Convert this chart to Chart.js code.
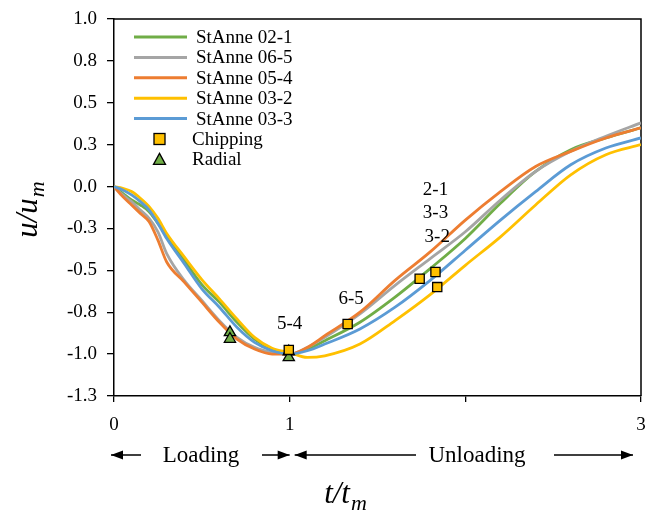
<!DOCTYPE html>
<html>
<head>
<meta charset="utf-8">
<script src="https://cdn.jsdelivr.net/npm/chart.js@4.4.0/dist/chart.umd.min.js"></script>
<style>
  html, body { margin: 0; padding: 0; background: #fff; overflow: hidden; }
  canvas { display: block; }
</style>
</head>
<body>
<canvas id="chart" width="645" height="512"></canvas>
<script>
// t/tm sample points shared by all five curves
const tVals = [0, 0.05, 0.1, 0.15, 0.2, 0.25, 0.3, 0.4, 0.5, 0.6, 0.7, 0.8, 0.9, 1.0,
               1.1, 1.2, 1.4, 1.6, 1.8, 2.0, 2.2, 2.4, 2.6, 2.8, 3.0];

// u/um
const stAnne021 = [0, -0.04, -0.08, -0.11, -0.15, -0.22, -0.29, -0.44, -0.585, -0.69, -0.81, -0.91, -0.97, -1.0,
                   -0.97, -0.92, -0.81, -0.66, -0.49, -0.31, -0.10, 0.09, 0.22, 0.29, 0.35];
const stAnne065 = [0, -0.05, -0.09, -0.14, -0.19, -0.27, -0.40, -0.56, -0.68, -0.80, -0.90, -0.96, -0.99, -1.0,
                   -0.96, -0.90, -0.76, -0.59, -0.43, -0.27, -0.08, 0.09, 0.21, 0.30, 0.38];
const stAnne054 = [0, -0.06, -0.11, -0.16, -0.21, -0.32, -0.45, -0.57, -0.69, -0.81, -0.91, -0.97, -1.0, -1.0,
                   -0.96, -0.89, -0.75, -0.56, -0.39, -0.20, -0.03, 0.12, 0.21, 0.29, 0.35];
const stAnne032 = [0, -0.01, -0.03, -0.07, -0.12, -0.19, -0.28, -0.42, -0.555, -0.67, -0.79, -0.90, -0.965, -0.99,
                   -1.02, -1.01, -0.94, -0.80, -0.645, -0.47, -0.30, -0.11, 0.07, 0.19, 0.25];
const stAnne033 = [0, -0.02, -0.05, -0.09, -0.14, -0.22, -0.31, -0.46, -0.61, -0.72, -0.84, -0.93, -0.98, -1.0,
                   -0.98, -0.94, -0.85, -0.72, -0.56, -0.38, -0.20, -0.03, 0.13, 0.23, 0.29];

const seriesNames = ['StAnne 02-1', 'StAnne 06-5', 'StAnne 05-4', 'StAnne 03-2', 'StAnne 03-3'];
const seriesData = [stAnne021, stAnne065, stAnne054, stAnne032, stAnne033];
const seriesColors = ['#70AD47', '#A5A5A5', '#ED7D31', '#FFC000', '#5B9BD5'];

// failure markers
const chipT = [0.995, 1.33, 1.74, 1.83, 1.84];
const chipU = [-0.975, -0.82, -0.55, -0.51, -0.60];
const radialT = [0.66, 0.66, 0.995, 0.995];
const radialU = [-0.87, -0.91, -0.985, -1.02];

// specimen labels next to the chipping markers
const chipLabels = ['5-4', '6-5', '2-1', '3-3', '3-2'];
const chipLabelT = [1.0, 1.35, 1.83, 1.83, 1.84];
const chipLabelU = [-0.82, -0.67, -0.02, -0.16, -0.30];

const FONT = '"Liberation Serif", "DejaVu Serif", serif';

const datasets = [];
datasets.push({
  label: 'Chipping',
  data: chipT.map((t, i) => ({x: t, y: chipU[i]})),
  showLine: false, pointStyle: 'rect', pointRadius: 6.5,
  backgroundColor: '#FFC000', borderColor: '#000', borderWidth: 1.3, order: 0
});
datasets.push({
  label: 'Radial',
  data: radialT.map((t, i) => ({x: t, y: radialU[i]})),
  showLine: false, pointStyle: 'triangle', pointRadius: 6.5,
  backgroundColor: '#70AD47', borderColor: '#000', borderWidth: 1.3, order: 1
});
seriesNames.forEach((name, i) => {
  datasets.push({
    label: name,
    data: tVals.map((t, j) => ({x: t, y: seriesData[i][j]})),
    borderColor: seriesColors[i], borderWidth: 2.8,
    pointRadius: 0, cubicInterpolationMode: 'monotone', fill: false,
    order: 10 - i
  });
});

const framePlugin = {
  id: 'frame',
  beforeDatasetsDraw(chart) {
    const a = chart.chartArea, ctx = chart.ctx;
    ctx.save();
    ctx.strokeStyle = '#000';
    ctx.lineWidth = 1.5;
    ctx.beginPath();
    ctx.moveTo(a.left, a.top); ctx.lineTo(a.right, a.top); ctx.lineTo(a.right, a.bottom);
    ctx.stroke();
    ctx.restore();
  }
};

function arrowHead(ctx, x, y, dir) {
  ctx.beginPath();
  ctx.moveTo(x, y);
  ctx.lineTo(x - dir * 12, y - 4.5);
  ctx.lineTo(x - dir * 12, y + 4.5);
  ctx.closePath();
  ctx.fill();
}

function subTitle(ctx, main, sub, size) {
  ctx.font = 'italic ' + size + 'px ' + FONT;
  const w1 = ctx.measureText(main).width;
  ctx.font = 'italic ' + Math.round(size * 0.7) + 'px ' + FONT;
  const w2 = ctx.measureText(sub).width;
  const x0 = -(w1 + w2) / 2;
  ctx.font = 'italic ' + size + 'px ' + FONT;
  ctx.fillText(main, x0, 0);
  ctx.font = 'italic ' + Math.round(size * 0.7) + 'px ' + FONT;
  ctx.fillText(sub, x0 + w1 + 1, size * 0.22);
}

const annotPlugin = {
  id: 'annot',
  afterDraw(chart) {
    const ctx = chart.ctx, a = chart.chartArea;
    const xs = chart.scales.x, ys = chart.scales.y;
    ctx.save();
    ctx.fillStyle = '#000';

    // specimen labels
    ctx.font = '19px ' + FONT;
    ctx.textAlign = 'center';
    ctx.textBaseline = 'middle';
    chipLabels.forEach((s, i) => {
      ctx.fillText(s, xs.getPixelForValue(chipLabelT[i]), ys.getPixelForValue(chipLabelU[i]));
    });

    // legend
    ctx.textAlign = 'left';
    const lx = a.left + 20, ly = a.top + 18, dy = 20.4;
    seriesNames.forEach((name, i) => {
      const y = ly + i * dy;
      ctx.strokeStyle = seriesColors[i];
      ctx.lineWidth = 3;
      ctx.beginPath(); ctx.moveTo(lx, y); ctx.lineTo(lx + 53, y); ctx.stroke();
      ctx.fillText(name, lx + 62, y + 1);
    });
    ctx.strokeStyle = '#000';
    ctx.lineWidth = 1.3;
    let y = ly + 5 * dy;
    ctx.fillStyle = '#FFC000';
    ctx.fillRect(lx + 20, y - 5.5, 11, 11);
    ctx.strokeRect(lx + 20, y - 5.5, 11, 11);
    ctx.fillStyle = '#000';
    ctx.fillText('Chipping', lx + 58, y + 1);
    y += dy;
    ctx.fillStyle = '#70AD47';
    ctx.beginPath();
    ctx.moveTo(lx + 25.5, y - 6); ctx.lineTo(lx + 31.5, y + 5); ctx.lineTo(lx + 19.5, y + 5); ctx.closePath();
    ctx.fill(); ctx.stroke();
    ctx.fillStyle = '#000';
    ctx.fillText('Radial', lx + 58, y + 1);

    // loading / unloading arrows
    const x0 = xs.getPixelForValue(0), x1 = xs.getPixelForValue(1), x3 = xs.getPixelForValue(3);
    const ay = 455;
    ctx.font = '23px ' + FONT;
    ctx.textAlign = 'center';
    ctx.lineWidth = 1.3;
    ctx.fillText('Loading', 201, ay + 1);
    ctx.fillText('Unloading', 477, ay + 1);
    ctx.beginPath();
    ctx.moveTo(x0 - 3, ay); ctx.lineTo(141, ay);
    ctx.moveTo(262, ay); ctx.lineTo(x1, ay);
    ctx.moveTo(x1 + 5, ay); ctx.lineTo(416, ay);
    ctx.moveTo(554, ay); ctx.lineTo(x3 - 8, ay);
    ctx.stroke();
    arrowHead(ctx, x0 - 3, ay, -1);
    arrowHead(ctx, x1, ay, 1);
    arrowHead(ctx, x1 + 5, ay, -1);
    arrowHead(ctx, x3 - 8, ay, 1);

    // axis titles
    ctx.textAlign = 'left';
    ctx.textBaseline = 'alphabetic';
    ctx.save();
    ctx.translate(345, 503);
    subTitle(ctx, 't/t', 'm', 31);
    ctx.restore();
    ctx.save();
    ctx.translate(37, 210);
    ctx.rotate(-Math.PI / 2);
    subTitle(ctx, 'u/u', 'm', 31);
    ctx.restore();

    ctx.restore();
  }
};

new Chart(document.getElementById('chart'), {
  type: 'line',
  data: { datasets: datasets },
  options: {
    responsive: false,
    animation: false,
    layout: { autoPadding: false, padding: { top: 19, right: 4, left: 0, bottom: 0 } },
    plugins: { legend: { display: false }, tooltip: { enabled: false } },
    scales: {
      x: {
        type: 'linear', min: 0, max: 3,
        afterFit(scale) { scale.height = 116; scale.paddingLeft = 0; scale.paddingRight = 0; },
        border: { color: '#000', width: 1.5 },
        grid: { drawOnChartArea: false, color: '#000', tickLength: 6, lineWidth: 1.3 },
        ticks: {
          stepSize: 1, color: '#000', padding: 12, maxRotation: 0,
          font: { family: FONT, size: 19 },
          callback: v => (v === 2 ? '' : String(v))
        }
      },
      y: {
        min: -1.25, max: 1,
        afterFit(scale) { scale.width = 114; scale.paddingTop = 0; scale.paddingBottom = 0; },
        border: { color: '#000', width: 1.5 },
        grid: { drawOnChartArea: false, color: '#000', tickLength: 7, lineWidth: 1.3 },
        ticks: {
          stepSize: 0.25, color: '#000', padding: 10,
          font: { family: FONT, size: 19 },
          callback: v => v.toFixed(1)
        }
      }
    }
  },
  plugins: [framePlugin, annotPlugin]
});
</script>
</body>
</html>
